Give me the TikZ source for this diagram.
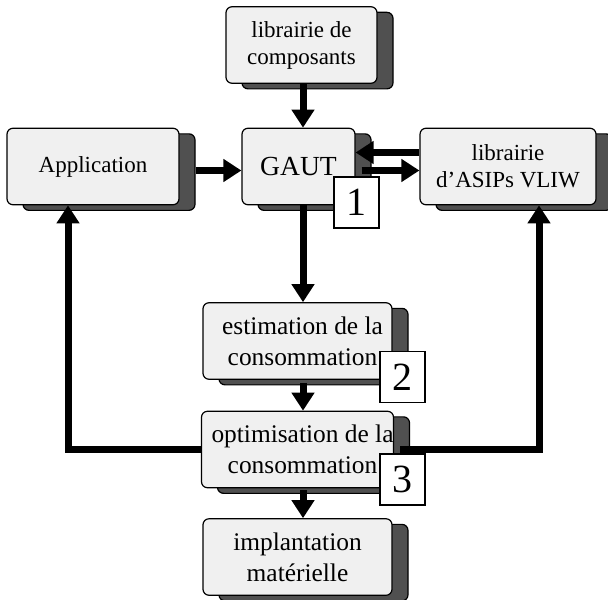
\documentclass[tikz,border=0pt]{standalone}
\usepackage{fontspec}
\setmainfont{Liberation Serif}
\usepackage{tikz}
\usetikzlibrary{arrows.meta, shadows}
\usepackage{xcolor}
\definecolor{boxgray}{RGB}{240,240,240}
\definecolor{shadegray}{RGB}{80,80,80}

\tikzset{
  box/.style={draw=black, line width=0.6pt, fill=boxgray, rounded corners=3pt,
    align=center, inner sep=0pt, minimum height=38.25pt,
    font=\fontsize{11.5}{13.5}\selectfont,
    drop shadow={shadow xshift=8pt, shadow yshift=-2.8pt, fill=shadegray,
      draw=black, opacity=1}},
  bigbox/.style={box, minimum width=94.5pt, font=\fontsize{12.7}{15.5}\selectfont},
  tag/.style={draw=black, line width=0.6pt, fill=white, minimum width=22.5pt,
    minimum height=25.5pt, inner sep=0pt, font=\fontsize{20}{20}\selectfont},
  conn/.style={line width=3.5pt, -{Triangle[length=9pt,width=11pt]}}
}

\begin{document}
\begin{tikzpicture}[x=0.5pt,y=-0.5pt]
\useasboundingbox (0,0) rectangle (608,599);

% boxes
\node[box, minimum width=75.5pt] (comp) at (301.5,45) {librairie de\\composants};
\node[box, minimum width=86pt] (app) at (93,166.5) {Application};
\node[box, minimum width=56.5pt, font=\fontsize{13.8}{16}\selectfont] (gaut) at (298.5,166.5) {GAUT};
\node[box, minimum width=88pt] (asip) at (508,166.5) {librairie\\d'ASIPs VLIW};
\node[bigbox] (estim) at (297.5,341) {\hspace*{5pt}estimation de la\\\hspace*{5pt}consommation};
\node[bigbox] (optim) at (297.5,449.5) {\hspace*{5pt}optimisation de la\\\hspace*{5pt}consommation};
\node[bigbox] (impl) at (297.5,557) {implantation\\matérielle};
\coordinate (spine) at (303,0);

% connectors
\draw[conn] (comp.south -| spine) -- (gaut.north -| spine);
\draw[conn] ([xshift=8pt,yshift=-2pt]app.east) -- ([yshift=-2pt]gaut.west);
\draw[conn] ([xshift=3pt,yshift=-2pt]gaut.east) -- ([yshift=-2pt]asip.west);
\draw[conn] ([yshift=7pt]asip.west) -- ([yshift=7pt]gaut.east);
\draw[conn] (gaut.south -| spine) -- (estim.north -| spine);
\draw[conn] ([yshift=-1.5pt]estim.south -| spine) -- (optim.north -| spine);
\draw[conn] ([yshift=-1pt]optim.south -| spine) -- (impl.north -| spine);
\draw[conn] (optim.west) -| ([xshift=-12.5pt]app.south);
\draw[conn] ([xshift=3pt]optim.east) -| ([xshift=15.5pt]asip.south);

% step numbers
\node[tag] (n1) at (356.5,202.5) {1};
\node[tag] (n2) at (402.5,377) {2};
\node[tag] (n3) at (402.5,479.5) {3};

\end{tikzpicture}
\end{document}
